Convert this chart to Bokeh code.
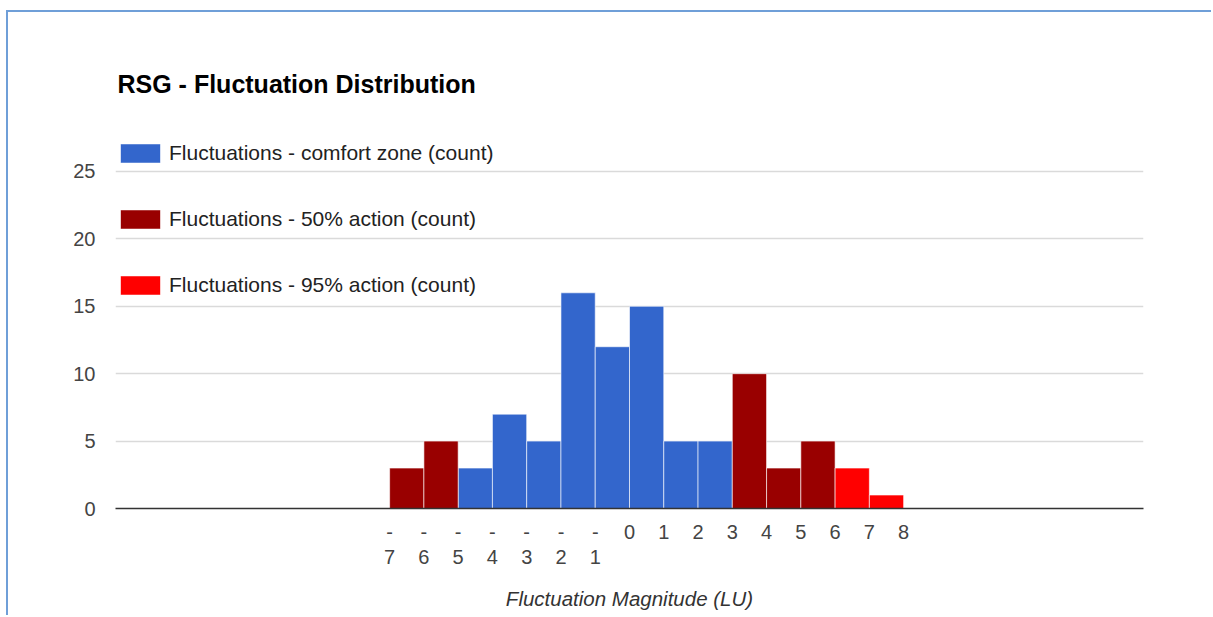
from bokeh.plotting import figure
from bokeh.models import Range1d, FixedTicker, LinearAxis, Legend, LegendItem
from bokeh.embed import file_html
from bokeh.resources import INLINE

# ---------------- data ----------------
title_text = "RSG - Fluctuation Distribution"
x_title = "Fluctuation Magnitude (LU)"

series_names = [
    "Fluctuations - comfort zone (count)",
    "Fluctuations - 50% action (count)",
    "Fluctuations - 95% action (count)",
]
series_colors = ["#3366cc", "#990000", "#ff0000"]

comfort_bin_start = [-5, -4, -3, -2, -1, 0, 1, 2]
comfort_counts = [3, 7, 5, 16, 12, 15, 5, 5]

action50_bin_start = [-7, -6, 3, 4, 5]
action50_counts = [3, 5, 10, 3, 5]

action95_bin_start = [6, 7]
action95_counts = [3, 1]

bin_width = 1

x_ticks = [-7, -6, -5, -4, -3, -2, -1, 0, 1, 2, 3, 4, 5, 6, 7, 8]
x_tick_line1 = ["-", "-", "-", "-", "-", "-", "-", "0", "1", "2", "3", "4", "5", "6", "7", "8"]
x_tick_line2 = ["7", "6", "5", "4", "3", "2", "1", "", "", "", "", "", "", "", "", ""]
y_ticks = [0, 5, 10, 15, 20, 25]

x_min, x_max = -15, 15
y_min, y_max = 0, 28.04

FONT = "Liberation Sans"

# ---------------- figure ----------------
p = figure(
    frame_width=1028, frame_height=378,
    x_range=Range1d(x_min, x_max), y_range=Range1d(y_min, y_max),
    output_backend="svg", toolbar_location=None,
    min_border_left=107, min_border_right=68,
    min_border_top=118, min_border_bottom=107,
)
p.styles = {
    "border-left": "2px solid #6f9fd8",
    "border-top": "2px solid #6f9fd8",
    "margin-left": "6px",
    "margin-top": "10px",
}
p.background_fill_color = "white"
p.border_fill_color = "white"
p.outline_line_color = None

p.title.text = title_text
p.title.text_font = FONT
p.title.text_font_size = "25px"
p.title.text_font_style = "bold"
p.title.text_color = "#000000"
p.title.align = "left"
p.title.offset = 2
p.title.standoff = 66

renderers = []
for starts, counts, color in [
    (comfort_bin_start, comfort_counts, series_colors[0]),
    (action50_bin_start, action50_counts, series_colors[1]),
    (action95_bin_start, action95_counts, series_colors[2]),
]:
    r = p.quad(
        left=starts, right=[s + bin_width for s in starts],
        bottom=[0] * len(counts), top=counts,
        fill_color=color, line_color="white", line_alpha=0.6, line_width=1,
    )
    renderers.append(r)

legend = Legend(
    items=[LegendItem(label=n, renderers=[r]) for n, r in zip(series_names, renderers)],
    location=(0, 211), orientation="vertical",
    spacing=42, glyph_width=50, glyph_height=24, label_standoff=4,
    label_text_font=FONT, label_text_font_size="21px", label_text_color="#222222",
    padding=0, margin=0, border_line_color=None, background_fill_alpha=0,
)
p.add_layout(legend, "center")

# grid
p.xgrid.grid_line_color = None
p.ygrid.ticker = FixedTicker(ticks=y_ticks)
p.ygrid.grid_line_color = "#dadada"
p.ygrid.grid_line_width = 1.5

# y axis
p.yaxis.ticker = FixedTicker(ticks=y_ticks)
p.yaxis.axis_line_color = None
p.yaxis.major_tick_line_color = None
p.yaxis.minor_tick_line_color = None
p.yaxis.major_tick_out = 0
p.yaxis.major_tick_in = 0
p.yaxis.major_label_standoff = 20
p.yaxis.major_label_text_font = FONT
p.yaxis.major_label_text_font_size = "20px"
p.yaxis.major_label_text_color = "#444444"

# x axis (first line of labels)
p.xaxis.ticker = FixedTicker(ticks=x_ticks)
p.xaxis.major_label_overrides = dict(zip(x_ticks, x_tick_line1))
p.xaxis.axis_line_color = "#333333"
p.xaxis.axis_line_width = 1.5
p.xaxis.major_tick_line_color = None
p.xaxis.minor_tick_line_color = None
p.xaxis.major_tick_out = 0
p.xaxis.major_tick_in = 0
p.xaxis.major_label_standoff = 16
p.xaxis.major_label_text_font = FONT
p.xaxis.major_label_text_font_size = "20px"
p.xaxis.major_label_text_color = "#444444"

# second line of x labels + axis title
ax2 = LinearAxis(
    ticker=FixedTicker(ticks=x_ticks),
    major_label_overrides=dict(zip(x_ticks, x_tick_line2)),
    axis_line_color=None, major_tick_line_color=None, minor_tick_line_color=None,
    major_tick_out=0, major_tick_in=0,
    major_label_standoff=8,
    major_label_text_font=FONT, major_label_text_font_size="20px",
    major_label_text_color="#444444",
    axis_label=x_title, axis_label_standoff=20,
    axis_label_text_font=FONT, axis_label_text_font_size="20.5px",
    axis_label_text_font_style="italic", axis_label_text_color="#333333",
)
p.add_layout(ax2, "below")

open("out.html", "w").write(file_html(p, INLINE))
